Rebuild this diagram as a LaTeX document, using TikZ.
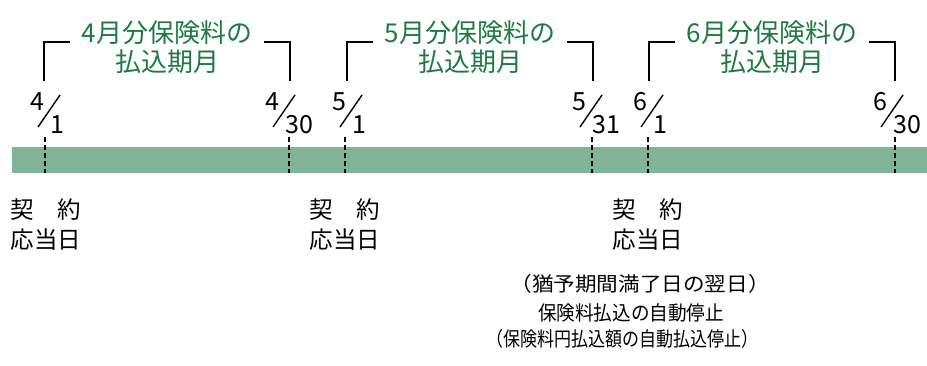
\documentclass[tikz,border=0pt]{standalone}
\usepackage{fontspec}
\setmainfont{Noto Sans CJK JP}
\definecolor{barfill}{RGB}{128,180,150}
\definecolor{titlegreen}{RGB}{30,122,66}
\tikzstyle{datenum}=[inner sep=0,font=\fontsize{25}{25}\selectfont]
\tikzstyle{title}=[inner sep=0,text=titlegreen,font=\fontsize{26}{26}\selectfont]
\tikzstyle{duelabel}=[inner sep=0,font=\fontsize{23.5}{23.5}\selectfont]
\tikzstyle{note}=[inner sep=0,font=\fontsize{20}{20}\selectfont]
\tikzstyle{guide}=[line width=1.8pt,dash pattern=on 5pt off 3pt]
\tikzstyle{bracket}=[line width=1.2pt]

\begin{document}
\begin{tikzpicture}[x=1pt,y=-1pt]
\useasboundingbox (0,0) rectangle (927,365);
\fill[barfill] (12,147) rectangle (927,173);

% dates on the bar
\foreach \x/\s/\m/\d/\n in {45/49/4/1/a,289/284/4/30/b,345/351/5/1/c,592/591/5/31/d,648/652/6/1/e,895/892/6/30/f}{
	\coordinate (top\n) at (\x,137);
	\coordinate (bot\n) at (\x,173);
	\draw[guide] (top\n)--(bot\n);
	\node[datenum,anchor=base east] (month\n) at (\s-4,110) {\m};
	\node[datenum,anchor=base west] (day\n) at (\s+1,133) {\d};
	\draw[line width=1.4pt] (\s-11,127)--(\s+11,95);
}

% payment periods
\foreach \l/\r/\m/\n in {44/290/4/a,347/593/5/c,649/895/6/e}{
	\coordinate (bl\n) at (\l,81);
	\coordinate (br\n) at (\r,81);
	\draw[bracket] (bl\n) |- ++(26,-39);
	\draw[bracket] (br\n) |- ++(-26,-39);
	\node[title,anchor=base] (title\n) at ({(\l+\r)/2},42) {\m 月分保険料の};
	\node[title,anchor=base] (period\n) at ({(\l+\r)/2},71) {払込期月};
}

% contract dates
\foreach \x/\n in {46/a,345/c,648/e}{
	\node[duelabel,anchor=base] (contract\n) at (\x,218) {契　約};
	\node[duelabel,anchor=base] (due\n) at (\x,248) {応当日};
}

\node[note,anchor=base] (grace) at (640,291) {\scalebox{1.08}[1]{（猶予期間満了日の翌日）}};
\node[note,anchor=base] (stop) at (631,320) {\scalebox{0.93}[1]{保険料払込の自動停止}};
\node[note,anchor=base] (stopyen) at (622,346) {\scalebox{0.85}[1]{（保険料円払込額の自動払込停止）}};
\end{tikzpicture}
\end{document}
